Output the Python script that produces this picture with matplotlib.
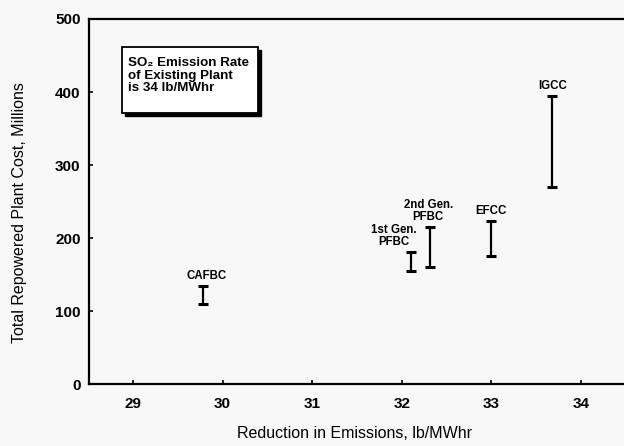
import matplotlib
matplotlib.use('Agg')
import matplotlib.pyplot as plt
from matplotlib.patches import Rectangle

# Plant types and their cost ranges (millions of dollars)
plants = ['CAFBC', '1st Gen.\nPFBC', '2nd Gen.\nPFBC', 'EFCC', 'IGCC']
reduction = [29.78, 32.10, 32.31, 33.0, 33.68]   # lb/MWhr
cost_low = [110, 155, 160, 175, 270]
cost_high = [134, 181, 215, 223, 394]

x_ticks = [29, 30, 31, 32, 33, 34]
y_ticks = [0, 100, 200, 300, 400, 500]

# label offsets in points (dx, dy) from the top of each bar
label_offsets = [(3, 3), (-12, 3), (-1, 3), (0, 3), (0, 3)]

plt.rcParams['font.family'] = ['Liberation Sans', 'DejaVu Sans']
bg = '#f8f8f8'

fig = plt.figure(figsize=(6.24, 4.46), dpi=100, facecolor=bg)
ax = fig.add_axes([0.1426, 0.1383, 0.8574, 0.8191], facecolor=bg)

mid = [(lo + hi) / 2 for lo, hi in zip(cost_low, cost_high)]
err = [[m - lo for m, lo in zip(mid, cost_low)],
       [hi - m for m, hi in zip(mid, cost_high)]]
ax.errorbar(reduction, mid, yerr=err, fmt='none', ecolor='black',
            elinewidth=1.6, capsize=3.6, capthick=2.2)

for name, x, hi, (dx, dy) in zip(plants, reduction, cost_high, label_offsets):
    ax.annotate(name, (x, hi), xytext=(dx, dy), textcoords='offset points',
                ha='center', va='bottom', fontsize=8.3, fontweight='bold',
                linespacing=1.0)

ax.set_xlim(28.51, 34.48)
ax.set_ylim(0, 500)
ax.set_xticks(x_ticks)
ax.set_yticks(y_ticks)
ax.tick_params(direction='in', length=3, width=1.2, labelsize=11)
ax.tick_params(axis='x', pad=9)
ax.tick_params(axis='y', pad=6)
for lbl in ax.get_xticklabels() + ax.get_yticklabels():
    lbl.set_fontweight('bold')
for side in ['left', 'bottom', 'top']:
    ax.spines[side].set_linewidth(1.6)
ax.spines['right'].set_visible(False)

ax.set_xlabel('Reduction in Emissions, lb/MWhr', fontsize=11.5)
ax.set_ylabel('Total Repowered Plant Cost, Millions', fontsize=11.5)
ax.xaxis.set_label_coords(0.497, -0.115)
ax.yaxis.set_label_coords(-0.115, 0.47)

# note box with drop shadow
bx, by, bw, bh = 0.0617, 0.7427, 0.254, 0.1807
ax.add_patch(Rectangle((bx + 0.006, by - 0.009), bw, bh, transform=ax.transAxes,
                       facecolor='black', edgecolor='black', zorder=3))
ax.add_patch(Rectangle((bx, by), bw, bh, transform=ax.transAxes,
                       facecolor='white', edgecolor='black', linewidth=1.3, zorder=4))
ax.text(bx + 0.011, 0.895, 'SO\u2082 Emission Rate\nof Existing Plant\nis 34 lb/MWhr',
        transform=ax.transAxes, ha='left', va='top', fontsize=9.6,
        fontweight='bold', linespacing=1.05, zorder=5)

fig.savefig('out.png', dpi=100, facecolor=bg)
